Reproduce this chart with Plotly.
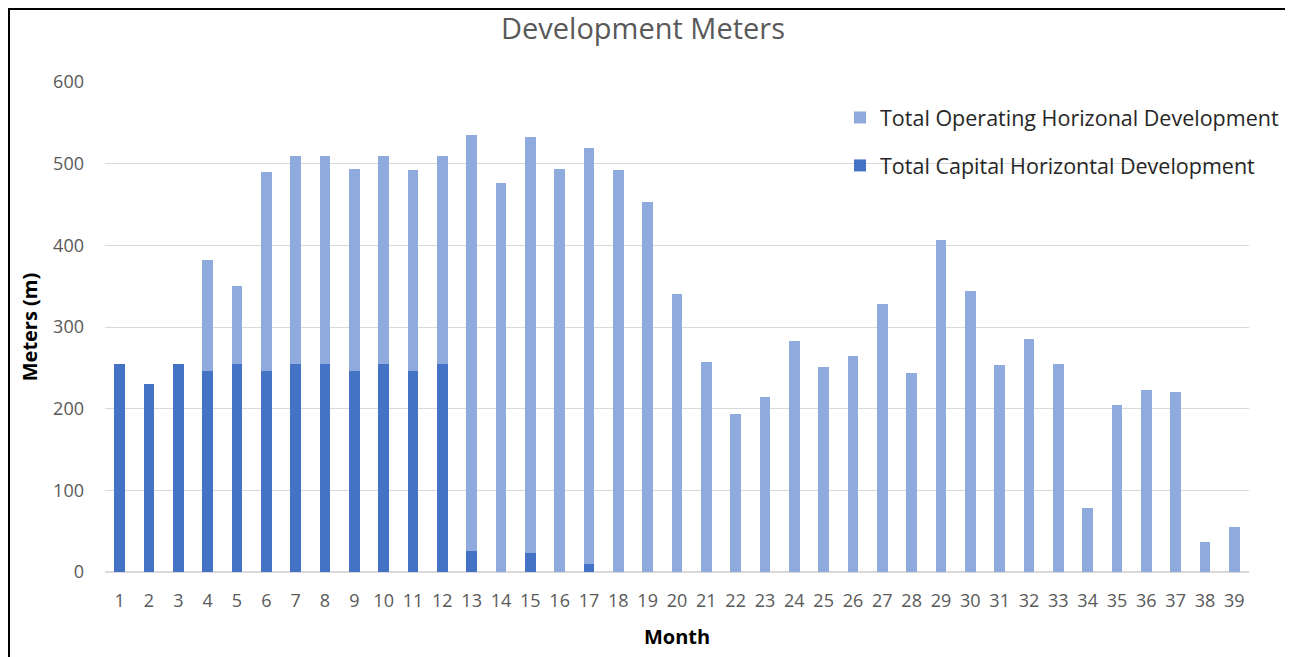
import plotly.graph_objects as go

months = [str(i) for i in range(1, 40)]
capital = [255, 230, 255, 246, 255, 246, 255, 255, 246, 255, 246, 255,
           26, 0, 23, 0, 10, 0, 0, 0, 0, 0, 0, 0, 0, 0, 0, 0, 0, 0,
           0, 0, 0, 0, 0, 0, 0, 0, 0]
operating = [0, 0, 0, 136, 95, 244, 255, 255, 248, 255, 246, 255,
             509, 476, 510, 494, 509, 492, 453, 340, 257, 194, 214, 283, 251,
             264, 328, 244, 406, 344, 253, 285, 255, 78, 205, 223, 221, 37, 55]

FONT = "Open Sans"
OFF = 8  # page body margin
W, H = 1293 - OFF, 657 - OFF
L, T = 105 - OFF, 82 - OFF
R = W - (1249 - OFF)
B = H - (572 - OFF)
pw, ph = W - L - R, H - T - B


def px(xr):
    return (xr - OFF - L) / pw


def py(yr):
    return (H - B - (yr - OFF)) / ph


fig = go.Figure()
fig.add_trace(go.Bar(x=months, y=capital, name="Total Capital Horizontal Development",
                     marker=dict(color="#4472C4", line=dict(width=0)),
                     legendgroup="c", legendrank=2))
fig.add_trace(go.Bar(x=months, y=operating, name="Total Operating Horizonal Development",
                     marker=dict(color="#8FAADC", line=dict(width=0)),
                     legendgroup="o", legendrank=1))

fig.update_layout(
    width=W, height=H,
    margin=dict(l=L, r=R, t=T, b=B, autoexpand=False),
    barmode="stack", bargap=0.63,
    plot_bgcolor="white", paper_bgcolor="white",
    font=dict(family=FONT, color="#595959", size=17),
    title=dict(text="Development Meters", x=(643 - OFF) / W, xanchor="center",
               y=1 - (29 - OFF) / H, yanchor="middle",
               font=dict(family=FONT, size=29, color="#595959")),
    legend=dict(x=px(840), y=py(97), xanchor="left", yanchor="top",
                traceorder="grouped", tracegroupgap=17,
                font=dict(family=FONT, size=21.5, color="#262626"),
                bgcolor="rgba(0,0,0,0)", itemwidth=30),
    xaxis=dict(title=dict(text="<b>Month</b>", font=dict(family=FONT, size=20, color="#000000"),
                          standoff=19),
               tickfont=dict(family=FONT, size=18, color="#595959"),
               showgrid=False, showline=True, linecolor="#d9d9d9", linewidth=1,
               ticks="", ticklen=0, ticklabelstandoff=12),
    yaxis=dict(title=dict(text="<b>Meters (m)</b>", font=dict(family=FONT, size=20, color="#000000"),
                          standoff=10),
               range=[0, 600], dtick=100,
               tickfont=dict(family=FONT, size=18, color="#595959"),
               showgrid=True, gridcolor="#d9d9d9", gridwidth=1,
               zeroline=True, zerolinecolor="#d9d9d9", showline=False, ticks="",
               ticklabelstandoff=20),
    shapes=[dict(type="rect", xref="paper", yref="paper",
                 x0=px(OFF + 1), x1=px(1291),
                 y0=py(720), y1=py(OFF + 1),
                 line=dict(color="#000000", width=2), fillcolor="rgba(0,0,0,0)", layer="above")],
)

fig.write_html("out.html")
